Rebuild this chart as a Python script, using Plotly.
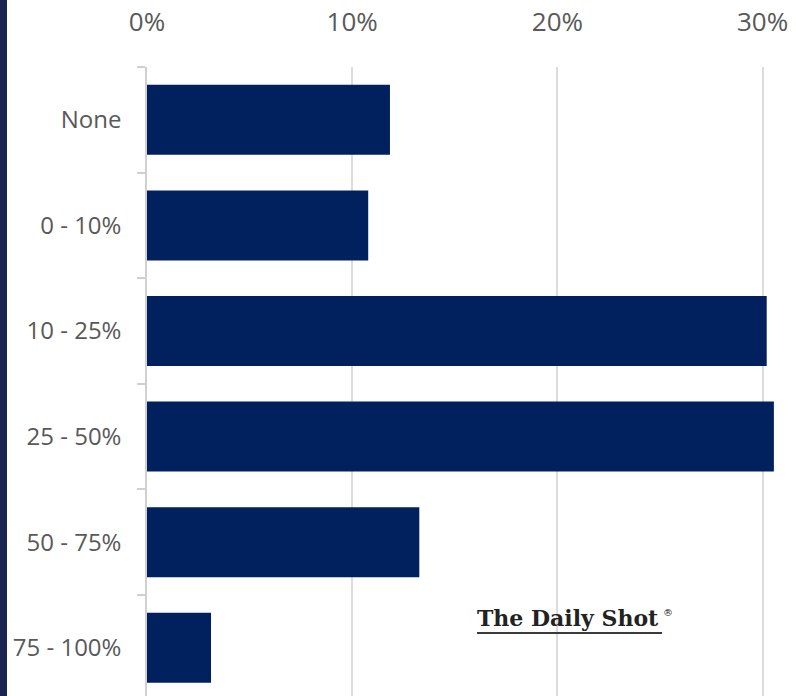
import plotly.graph_objects as go

categories = ["None", "0 - 10%", "10 - 25%", "25 - 50%", "50 - 75%", "75 - 100%"]
values = [11.84, 10.78, 30.2, 30.55, 13.27, 3.12]
x_tickvals = [0, 10, 20, 30]
x_ticktext = ["0%", "10%", "20%", "30%"]

W, H = 796, 696
L, T = 147, 67
PW, PH = W - L, H - T

def px(x):
    return (x - L) / PW

def py(y):
    return (H - y) / PH

fig = go.Figure(go.Bar(
    x=values, y=categories, orientation="h",
    marker=dict(color="#00205e", line=dict(width=0)),
    hoverinfo="skip",
))

fig.update_layout(
    width=W, height=H,
    margin=dict(l=L, r=0, t=T, b=0),
    paper_bgcolor="white", plot_bgcolor="white",
    bargap=0.337,
    showlegend=False,
    xaxis=dict(
        side="top", range=[0, PW / 20.52],
        tickvals=x_tickvals, ticktext=x_ticktext,
        showgrid=True, gridcolor="#dcdcdc", gridwidth=1.5,
        zeroline=False, showline=False, ticks="",
        tickfont=dict(family="Open Sans", size=26, color="#595959"),
        ticklabelstandoff=30,
    ),
    yaxis=dict(
        range=[5.5 - 4.6 / 105.6, -0.5],
        categoryorder="array", categoryarray=categories,
        showline=True, linecolor="#d0d0d0", linewidth=1.5,
        ticks="outside", tickson="boundaries", ticklen=8,
        tickcolor="#d0d0d0", tickwidth=1.5,
        tickfont=dict(family="Open Sans", size=24, color="#595959"),
        ticklabelstandoff=19,
        showgrid=False,
    ),
    shapes=[
        dict(type="rect", xref="paper", yref="paper",
             x0=px(0), x1=px(7), y0=py(0), y1=py(696),
             fillcolor="#1b2350", line=dict(width=0), layer="above"),
        dict(type="line", xref="paper", yref="paper",
             x0=px(477), x1=px(662), y0=py(633), y1=py(633),
             line=dict(color="#3a3a3a", width=2)),
    ],
    annotations=[
        dict(text="<b>The Daily Shot</b>", xref="paper", yref="paper",
             x=px(475), y=py(618), xanchor="left", yanchor="middle",
             showarrow=False,
             font=dict(family="DejaVu Serif", size=22, color="#222222")),
        dict(text="®", xref="paper", yref="paper",
             x=px(661), y=py(612), xanchor="left", yanchor="middle",
             showarrow=False,
             font=dict(family="DejaVu Serif", size=10, color="#222222")),
    ],
)

fig.write_html("out.html")
